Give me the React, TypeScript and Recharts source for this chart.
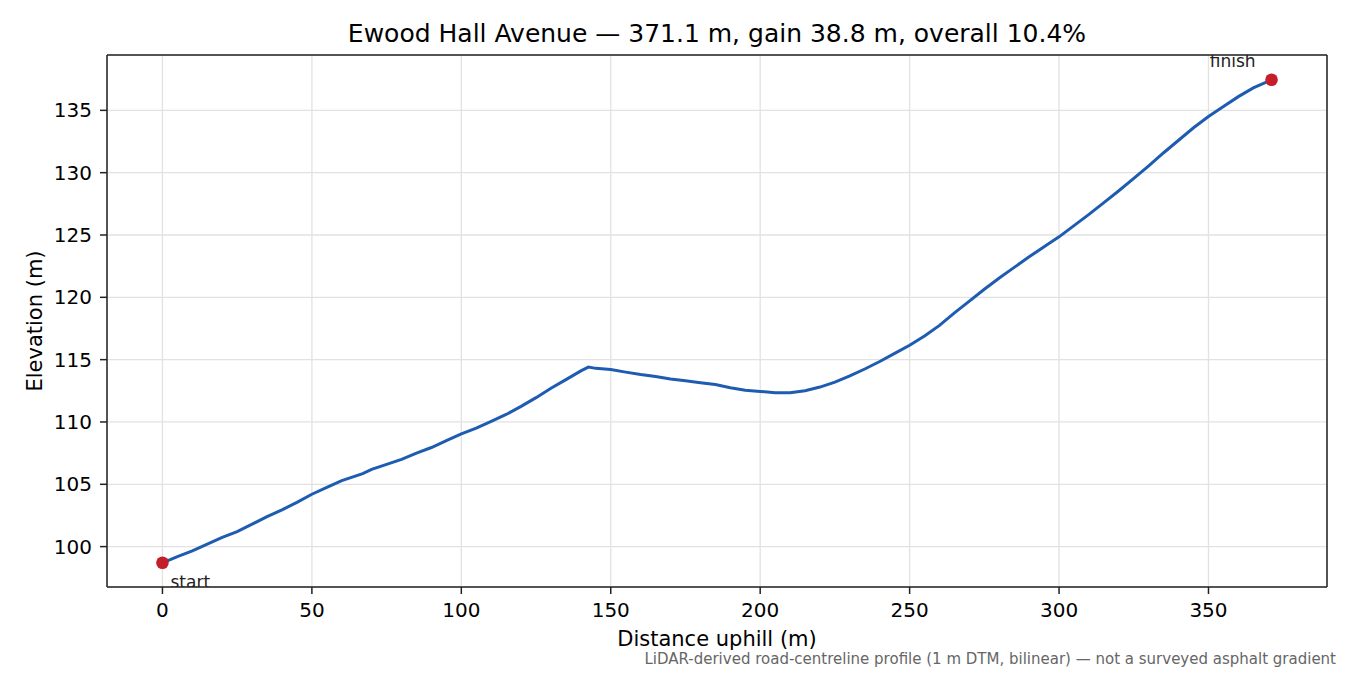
import { ComposedChart, Line, XAxis, YAxis, CartesianGrid, ReferenceLine } from 'recharts';

// distance along the road (m) and elevation (m)
const distances = [
  0, 5, 10, 15, 20, 25, 30, 35, 40, 45, 50, 55, 60, 65, 67, 70, 75, 80, 85, 90, 95, 100,
  105, 110, 115, 120, 125, 130, 135, 140, 142.5, 145, 150, 155, 160, 165, 170, 175, 180,
  185, 190, 195, 200, 205, 210, 215, 220, 225, 230, 235, 240, 245, 250, 255, 260, 265,
  270, 275, 280, 285, 290, 295, 300, 305, 310, 315, 320, 325, 330, 335, 340, 345, 350,
  355, 360, 365, 371.1,
];
const elevations = [
  98.7, 99.2, 99.65, 100.2, 100.75, 101.2, 101.8, 102.4, 102.95, 103.55, 104.2, 104.75,
  105.3, 105.7, 105.85, 106.2, 106.6, 107.0, 107.5, 107.95, 108.5, 109.05, 109.5, 110.05,
  110.6, 111.25, 111.95, 112.7, 113.4, 114.1, 114.4, 114.3, 114.2, 114.0, 113.8, 113.65,
  113.45, 113.3, 113.15, 113.0, 112.75, 112.55, 112.45, 112.35, 112.35, 112.5, 112.8,
  113.2, 113.7, 114.25, 114.85, 115.5, 116.15, 116.9, 117.75, 118.75, 119.7, 120.65,
  121.55, 122.4, 123.25, 124.05, 124.85, 125.75, 126.65, 127.6, 128.55, 129.55, 130.55,
  131.6, 132.6, 133.6, 134.5, 135.3, 136.1, 136.8, 137.45,
];
const xTicks = [0, 50, 100, 150, 200, 250, 300, 350];
const yTicks = [100, 105, 110, 115, 120, 125, 130, 135];

const profile = distances.map((d, i) => ({ d, elev: elevations[i] }));

const W = 1350;
const H = 675;
const margin = { top: 55, right: 23, bottom: 48, left: 47 };
const Y_AXIS_W = 60;
const X_AXIS_H = 40;
const FONT = '"DejaVu Sans", Verdana, sans-serif';
const SPINE = '#222';

const plotLeft = margin.left + Y_AXIS_W;
const plotRight = W - margin.right;
const plotTop = margin.top;
const plotBottom = H - margin.bottom - X_AXIS_H;
const plotMidX = (plotLeft + plotRight) / 2;
const plotMidY = (plotTop + plotBottom) / 2;

const xDomain = [-18.555, 389.655];
const yDomain = [96.76, 139.44];

const tickStyle = { fill: '#000', fontSize: 20, fontFamily: FONT };

// only the first and last points get a marker + label
const EndDot = (props: any) => {
  const { cx, cy, index } = props;
  const last = profile.length - 1;
  if (index !== 0 && index !== last) return <g key={`dot-${index}`} />;
  const isStart = index === 0;
  return (
    <g key={`dot-${index}`}>
      <circle cx={cx} cy={cy} r={6.3} fill="#c41e2a" />
      <text
        x={isStart ? cx + 8 : cx - 16}
        y={isStart ? cy + 25 : cy - 13}
        textAnchor={isStart ? 'start' : 'end'}
        fontSize={17}
        fontFamily={FONT}
        fill="#222"
      >
        {isStart ? 'start' : 'finish'}
      </text>
    </g>
  );
};

export default function App() {
  return (
    <div style={{ position: 'absolute', left: 0, top: 0, width: W, height: H, background: '#fff' }}>
      <ComposedChart width={W} height={H} data={profile} margin={margin}>
        <CartesianGrid stroke="#e2e2e2" strokeWidth={1.3} />
        <XAxis
          dataKey="d"
          type="number"
          domain={xDomain}
          ticks={xTicks}
          allowDataOverflow
          height={X_AXIS_H}
          tickSize={7}
          tickMargin={9}
          tick={tickStyle}
          axisLine={{ stroke: SPINE, strokeWidth: 1.5 }}
          tickLine={{ stroke: SPINE, strokeWidth: 1.5 }}
        />
        <YAxis
          type="number"
          domain={yDomain}
          ticks={yTicks}
          allowDataOverflow
          width={Y_AXIS_W}
          tickSize={7}
          tickMargin={8}
          tick={tickStyle}
          axisLine={{ stroke: SPINE, strokeWidth: 1.5 }}
          tickLine={{ stroke: SPINE, strokeWidth: 1.5 }}
        />
        {/* top and right spines of the frame */}
        <ReferenceLine y={yDomain[1]} stroke={SPINE} strokeWidth={1.5} />
        <ReferenceLine x={xDomain[1]} stroke={SPINE} strokeWidth={1.5} />
        <Line
          type="linear"
          dataKey="elev"
          stroke="#1d5cb0"
          strokeWidth={3}
          dot={EndDot}
          activeDot={false}
          isAnimationActive={false}
        />
      </ComposedChart>
      <svg
        width={W}
        height={H}
        style={{ position: 'absolute', left: 0, top: 0, pointerEvents: 'none' }}
        fontFamily={FONT}
      >
        <text x={plotMidX} y={42} textAnchor="middle" fontSize={25} fill="#000">
          Ewood Hall Avenue — 371.1 m, gain 38.8 m, overall 10.4%
        </text>
        <text x={plotMidX} y={646} textAnchor="middle" fontSize={21} fill="#000">
          Distance uphill (m)
        </text>
        <text
          x={42}
          y={plotMidY}
          textAnchor="middle"
          fontSize={21}
          fill="#000"
          transform={`rotate(-90 42 ${plotMidY})`}
        >
          Elevation (m)
        </text>
        <text x={1336} y={664} textAnchor="end" fontSize={15} fill="#666">
          LiDAR-derived road-centreline profile (1 m DTM, bilinear) — not a surveyed asphalt gradient
        </text>
      </svg>
    </div>
  );
}
